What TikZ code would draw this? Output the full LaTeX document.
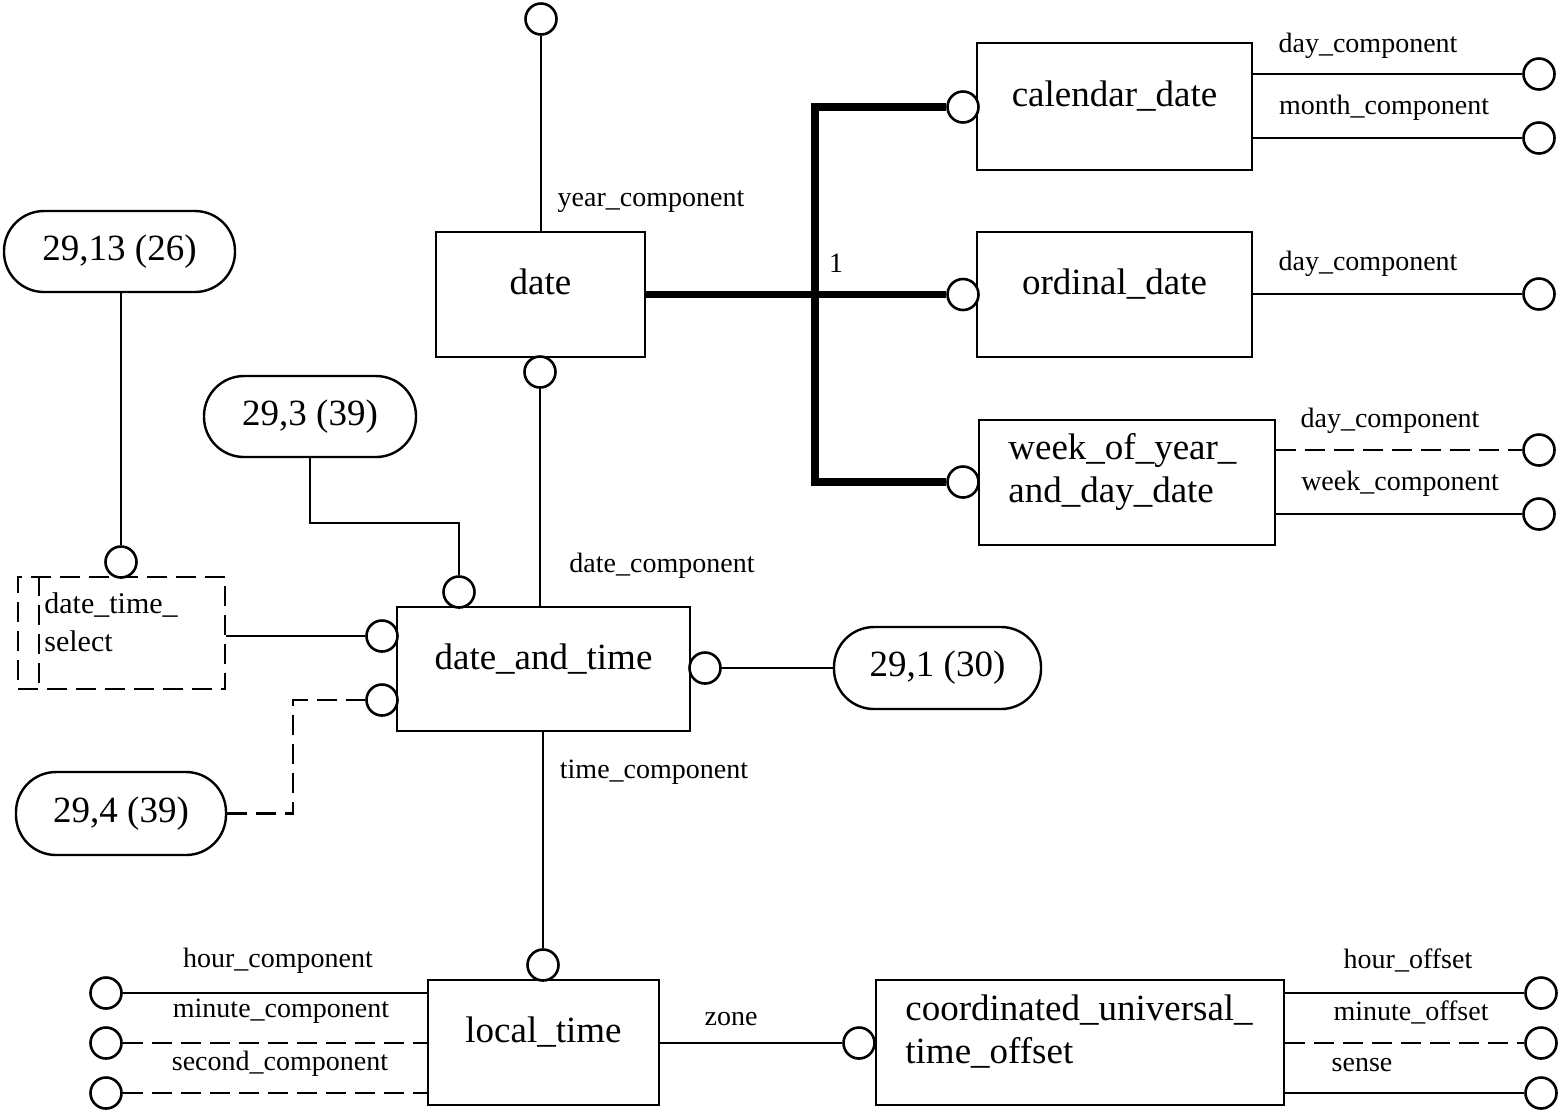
\documentclass[tikz,border=0pt]{standalone}
\usepackage{fontspec}
\setmainfont{Liberation Serif}
\usetikzlibrary{calc}

\begin{document}
\begin{tikzpicture}[
        x=0.5pt, y=-0.5pt,
        entity/.style={draw, line width=1.2pt, inner sep=0pt, font=\fontsize{18.5}{21.5}\selectfont, text height=12pt, text depth=12pt},
        entitytext/.style={inner sep=0pt, anchor=west, align=left, font=\fontsize{18.5}{21.5}\selectfont},
        pill/.style={draw, line width=1.2pt, rounded corners=20pt, inner sep=0pt, font=\fontsize{18.5}{21.5}\selectfont},
        attr/.style={circle, draw, line width=1.3pt, fill=white, minimum size=15.5pt, inner sep=0pt},
        role/.style={inner sep=0pt, yshift=-1.8pt, font=\fontsize{14}{16}\selectfont},
        rel/.style={line width=1.2pt},
        opt/.style={line width=1.2pt, dash pattern=on 10pt off 4.5pt},
        super/.style={line width=3.6pt}
    ]
        \useasboundingbox (0,0) rectangle (1561,1116);

        % entities
        \node[entity, minimum width=104.5pt, minimum height=62.5pt] (date) at (540.5,294.5) {date};
        \node[entity, minimum width=137.5pt, minimum height=63.5pt] (caldate) at (1114.5,106.5) {calendar\_date};
        \node[entity, minimum width=137.5pt, minimum height=62.5pt] (orddate) at (1114.5,294.5) {ordinal\_date};
        \node[entity, minimum width=148pt, minimum height=62.5pt] (weekdate) at (1127,482.5) {};
        \node[entitytext] (weektxt) at (1008,472) {week\_of\_year\_\\and\_day\_date};
        \node[entity, minimum width=146.5pt, minimum height=62pt] (dat) at (543.5,669) {date\_and\_time};
        \node[entity, minimum width=115.5pt, minimum height=62.5pt] (loct) at (543.5,1042.5) {local\_time};
        \node[entity, minimum width=204pt, minimum height=62.5pt] (utco) at (1080,1042.5) {};
        \node[entitytext] (utcotxt) at (905,1032) {coordinated\_universal\_\\time\_offset};

        % select type (dashed box)
        \node[draw, opt, inner sep=0pt, minimum width=103.5pt, minimum height=56pt] (dts) at (121.5,633) {};
        \draw[opt] ($(dts.north west)+(22,0)$) -- ($(dts.south west)+(22,0)$);
        \node[entitytext, font=\fontsize{15}{19}\selectfont] (dtstxt) at (44,622) {date\_time\_\\select};

        % page references
        \node[pill, minimum width=115.5pt, minimum height=40.5pt] (p2913) at (119.5,251.5) {29,13 (26)};
        \node[pill, minimum width=106pt, minimum height=40.5pt] (p293) at (310,416.5) {29,3 (39)};
        \node[pill, minimum width=103.5pt, minimum height=41pt] (p291) at (937.5,668) {29,1 (30)};
        \node[pill, minimum width=105pt, minimum height=41.5pt] (p294) at (121,813.5) {29,4 (39)};

        % attribute ends
        \node[attr] (ytop) at (541,19) {};
        \node[attr] (dbot) at (540,372) {};
        \node[attr] (calc) at (963,107) {};
        \node[attr] (ordc) at (963,294.5) {};
        \node[attr] (weekc) at (963,482) {};
        \node[attr] (cal1) at (1539,74) {};
        \node[attr] (cal2) at (1539,138) {};
        \node[attr] (ord1) at (1539,294) {};
        \node[attr] (wk1) at (1539,450) {};
        \node[attr] (wk2) at (1539,514) {};
        \node[attr] (dtsc) at (121,562) {};
        \node[attr] (dtt) at (459,592) {};
        \node[attr] (dtl1) at (382,636) {};
        \node[attr] (dtl2) at (382,700) {};
        \node[attr] (dtr) at (705,668) {};
        \node[attr] (ltt) at (543,965) {};
        \node[attr] (lt1) at (106,993) {};
        \node[attr] (lt2) at (106,1043) {};
        \node[attr] (lt3) at (106,1093) {};
        \node[attr] (zonec) at (859,1043) {};
        \node[attr] (uc1) at (1541,993) {};
        \node[attr] (uc2) at (1541,1043) {};
        \node[attr] (uc3) at (1541,1093) {};

        % date
        \draw[rel] (ytop) -- (ytop |- date.north);
        \node[role] (yearlbl) at (651,198) {year\_component};
        \coordinate (fork) at (815,294.5);
        \draw[super] (date.east) -- (ordc);
        \draw[super, line join=miter] (calc) -| (fork) |- (weekc);
        \node[role] (onelbl) at (836,260) {1};

        % subtypes of date
        \draw[rel] (cal1 -| caldate.east) -- (cal1);
        \node[role] (cal1lbl) at (1368,42) {day\_component};
        \draw[rel] (cal2 -| caldate.east) -- (cal2);
        \node[role] (cal2lbl) at (1384,104) {month\_component};
        \draw[rel] (ord1 -| orddate.east) -- (ord1);
        \node[role] (ord1lbl) at (1368,260) {day\_component};
        \draw[opt] (wk1 -| weekdate.east) -- (wk1);
        \node[role] (wk1lbl) at (1390,417) {day\_component};
        \draw[rel] (wk2 -| weekdate.east) -- (wk2);
        \node[role] (wk2lbl) at (1400,480) {week\_component};

        % date_and_time
        \draw[rel] (dbot) -- (dbot |- dat.north);
        \node[role] (datelbl) at (662,562) {date\_component};
        \draw[rel] (dtsc |- p2913.south) -- (dtsc);
        \draw[rel] (p293.south) -- ++(0,65) -| (dtt);
        \draw[rel] (dtl1 -| dts.east) -- (dtl1);
        \draw[opt] (p294.east) -- ++(66,0) |- (dtl2);
        \draw[rel] (dtr) -- (p291.west |- dtr);
        \draw[rel] (ltt |- dat.south) -- (ltt);
        \node[role] (timelbl) at (654,769) {time\_component};

        % local_time
        \draw[rel] (lt1) -- (lt1 -| loct.west);
        \node[role] (lt1lbl) at (278,957) {hour\_component};
        \draw[opt] (lt2) -- (lt2 -| loct.west);
        \node[role] (lt2lbl) at (281,1008) {minute\_component};
        \draw[opt] (lt3) -- (lt3 -| loct.west);
        \node[role] (lt3lbl) at (280,1060) {second\_component};
        \draw[rel] (loct.east |- zonec) -- (zonec);
        \node[role] (zonelbl) at (731,1015) {zone};

        % coordinated_universal_time_offset
        \draw[rel] (uc1 -| utco.east) -- (uc1);
        \node[role] (uc1lbl) at (1408,957) {hour\_offset};
        \draw[opt] (uc2 -| utco.east) -- (uc2);
        \node[role] (uc2lbl) at (1411,1009) {minute\_offset};
        \draw[rel] (uc3 -| utco.east) -- (uc3);
        \node[role] (uc3lbl) at (1362,1061) {sense};
    \end{tikzpicture}
\end{document}
